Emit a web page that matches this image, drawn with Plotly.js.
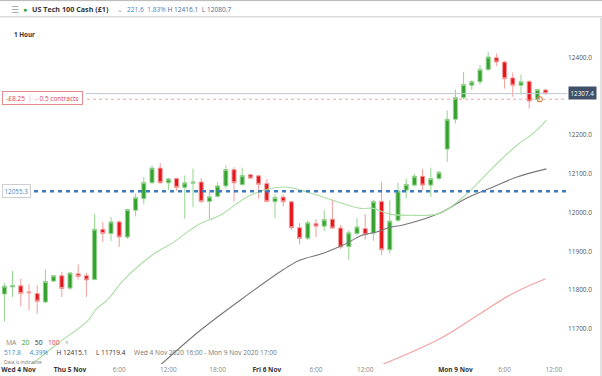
<!DOCTYPE html>
<html><head><meta charset="utf-8">
<script src="https://cdn.plot.ly/plotly-3.0.1.min.js"></script>
<style>html,body{margin:0;padding:0;background:#fff;overflow:hidden}#chart{width:602px;height:376px}</style>
</head><body><div id="chart"></div>
<script>
// Hourly candle slots (0 = Wed 4 Nov 16:00 ... 66 = last bar on Mon 9 Nov)
const slot = [0,1,2,3,4,5,6,7,8,9,10,11,12,13,14,15,16,17,18,19,20,21,22,23,24,25,26,27,28,29,30,31,32,33,34,35,36,37,38,39,40,41,42,43,44,45,46,47,48,49,50,51,52,53,54,55,56,57,58,59,60,61,62,63,64,65,66];
const openV  = [11789.6,11808,11811,11795,11791,11769,11823,11837,11805,11842,11837,11827,11957,11946,11976,11937,12006,12036,12077,12115,12077,12088,12065,12076,12079,12029,12042,12069,12111,12072,12098,12095,12075,12028,12040,12028,11961,11934,11972,11965,11983,11960,11912,11946,11959,11947,12029,11904,11980,12058,12071,12094,12071,12088,12164,12241,12297,12329,12338,12370,12400,12389,12348,12329,12339,12292,12317];
const highV  = [11818,11849,11829,11815,11812,11853,11838,11847,11845,11866,11845,11996,11976,11989,11980,12010,12049,12092,12122,12128,12090,12090,12096,12114,12089,12060,12078,12122,12118,12116,12100,12096,12087,12047,12047,12031,11973,11980,11983,12006,12034,11968,11954,11986,11996,12033,12079,12032,12077,12088,12100,12112,12116,12108,12264,12318,12363,12343,12381,12415.1,12411,12392,12362,12357,12342,12320,12320];
const lowV   = [11719.4,11782,11758,11748,11739,11766,11821,11782,11800,11827,11782,11826,11924,11927,11911,11932,11990,12021,12075,12075,12058,12056,11984,12014,12025,11984,12039,12062,12029,12072,12088,12036,12027,11986,12016,11955,11918,11929,11937,11952,11959,11906,11877,11941,11930,11927,11890,11894,11975,12036,12067,12058,12040,12084,12131,12230,12293,12317,12331,12366,12379,12320,12299,12305,12269,12286,12305];
const closeV = [11810,11812,11791,11793,11771,11822,11837,11804,11844,11835,11826,11957,11946,11976,11937,12008,12039,12078,12115,12077,12087,12065,12077,12079,12029,12041,12069,12111,12077,12096,12089,12073,12029,12039,12028,11961,11933,11974,11965,11982,11960,11911,11948,11963,11943,12029,11904,11978,12056,12073,12094,12071,12088,12104,12241,12297,12331,12338,12370,12402,12389,12346,12329,12338,12288,12318,12307.4];

// Moving averages at these slot positions
const ma20X = [2.9,6.5,10.1,11.3,12.5,14.5,18,20.6,22.6,23.9,26.3,30,34,36.9,40.6,43.4,45,47,49.5,53.1,55.9,59.6,62.5,64.5,66.1];
const ma20Y = [11600,11662,11719,11753,11773,11825,11890,11923,11954,11972,11993,12045,12066,12053,12028,12011,12011,11996,11993,11998,12039,12117,12174,12205,12239];
const ma50X = [18.7,23.9,28.7,33.9,36,38.9,41.3,43.7,45.4,47,48.6,53.1,56.4,59.6,62.5,66.1];
const ma50Y = [11600,11696,11773,11851,11877,11895,11916,11942,11950,11962,11968,11999,12038,12066,12092,12113];
const ma100X = [45.8,53.1,58,62,66];
const ma100Y = [11605,11674,11739,11791,11829];

// Reference levels
const alertLevel = 12055.3;
const positionLevel = 12293;
const lastPrice = 12307.4;

// Axis ticks
const xTickVals = [1.72,8,14,20,26,32,38,44,55,61,67];
const xTickText = ['<b style="color:#333">Wed 4 Nov</b>','<b style="color:#333">Thu 5 Nov</b>','6:00','12:00','18:00','<b style="color:#333">Fri 6 Nov</b>','6:00','12:00','<b style="color:#333">Mon 9 Nov</b>','6:00','12:00'];
const yTickVals = [11700,11800,11900,12000,12100,12200,12400];
const yTickText = ['11700.0','11800.0','11900.0','12000.0','12100.0','12200.0','12400.0'];

const W=602,H=376,ML=0,MR=35,MT=22,MB=12;
const PW=W-ML-MR, PH=H-MT-MB;
const px = x => (x-ML)/PW;
const py = y => (H-MB-y)/PH;
const FONT = '"Open Sans", "Liberation Sans", sans-serif';

const traces = [
  {type:'scatter', mode:'lines', x:ma100X, y:ma100Y, line:{color:'#f4a3a3', width:1.2, shape:'spline'}, hoverinfo:'skip', showlegend:false},
  {type:'scatter', mode:'lines', x:ma50X, y:ma50Y, line:{color:'#777777', width:1.1, shape:'spline'}, hoverinfo:'skip', showlegend:false},
  {type:'scatter', mode:'lines', x:ma20X, y:ma20Y, line:{color:'#abdda5', width:1.1, shape:'spline'}, hoverinfo:'skip', showlegend:false},
  {type:'candlestick', x:slot, open:openV, high:highV, low:lowV, close:closeV,
   increasing:{line:{color:'#94d38f', width:1}, fillcolor:'#35a22f'},
   decreasing:{line:{color:'#f29c9c', width:1}, fillcolor:'#e5171d'},
   whiskerwidth:0, hoverinfo:'skip', showlegend:false},
  {type:'scatter', mode:'markers', x:[65.3], y:[positionLevel], marker:{symbol:'circle-open', size:5, color:'#e08a55', line:{width:1.2}}, hoverinfo:'skip', showlegend:false}
];

const ann = (x,y,text,font,extra) => Object.assign({xref:'paper',yref:'paper',x:px(x),y:py(y),xanchor:'left',yanchor:'middle',text:text,showarrow:false,font:Object.assign({family:FONT,size:7,color:'#333'},font||{})}, extra||{});

const annotations = [
  ann(9,9,'☰',{size:9,color:'#9a9a9a'}),
  ann(21,9.5,'●',{size:7,color:'#2fa52a'}),
  ann(30,9,'<b>US Tech 100 Cash (£1)</b>',{size:7.2,color:'#333'}),
  ann(115,9,'⌄',{size:7,color:'#999'}),
  ann(125,9,'<span style="color:#4a86c5">221.6  1.83%</span> <span style="color:#4e6c8e">H 12416.1  L 12080.7</span>',{size:6.6}),
  ann(12,34,'<b>1 Hour</b>',{size:6.3,color:'#333'}),
  ann(3.5,342,'MA   <span style="color:#3aa335">20</span>   <span style="color:#333">50</span>   <span style="color:#e0454a">100</span>   <span style="color:#aaa">×</span>',{size:6.8,color:'#888'}),
  ann(1.5,352.5,'<span style="color:#4a86c5">517.8</span>     <span style="color:#4a86c5">4.39%</span>     H 12415.1     L 11719.4     <span style="color:#777">Wed 4 Nov 2020 16:00 - Mon 9 Nov 2020 17:00</span>',{size:6.6,color:'#333'}),
  ann(1.5,362,'Data is indicative',{size:4.8,color:'#777'}),
  ann(2,190.6,'12055.3',{size:6.3,color:'#4a86c5'},{bgcolor:'#fff',bordercolor:'#cfcfcf',borderwidth:1,borderpad:1.5}),
  ann(2,98,' -£8.25  <span style="color:#e5a0a3">│</span>  - 0.5 contracts ',{size:6.5,color:'#e0454a'},{bgcolor:'#fff',bordercolor:'#e58c90',borderwidth:1,borderpad:1.5}),
  ann(568,93,'12307.4',{size:6.3,color:'#fff'},{bgcolor:'#3f5068',borderpad:1.5})
];

const shapes = [
  {type:'line',xref:'paper',yref:'paper',x0:0,x1:W/PW,y0:py(0.6),y1:py(0.6),line:{color:'#b5b5b5',width:1}},
  {type:'line',xref:'paper',yref:'paper',x0:0,x1:W/PW,y0:py(16.8),y1:py(16.8),line:{color:'#dadada',width:1.6}},
  {type:'rect',xref:'paper',yref:'paper',x0:px(600),x1:px(602),y0:py(376),y1:py(18),fillcolor:'#e2e2e2',line:{width:0}},
  {type:'line',xref:'paper',yref:'y',x0:px(86),x1:1,y0:lastPrice,y1:lastPrice,line:{color:'#bcc6d2',width:1}},
  {type:'line',xref:'paper',yref:'y',x0:px(87),x1:1,y0:positionLevel,y1:positionLevel,line:{color:'#f0a3a5',width:1,dash:'3px,3px'}},
  {type:'line',xref:'paper',yref:'y',x0:px(34),x1:1,y0:alertLevel,y1:alertLevel,line:{color:'#3d7cc0',width:2.5,dash:'4px,4px'}}
];

const layout = {
  width:W, height:H, margin:{l:ML,r:MR,t:MT,b:MB},
  paper_bgcolor:'#fff', plot_bgcolor:'#fff',
  font:{family:FONT, size:7, color:'#555'},
  showlegend:false, dragmode:false, hovermode:false,
  xaxis:{range:[-0.537,68.61], tickmode:'array', tickvals:xTickVals, ticktext:xTickText, showgrid:false, zeroline:false, showline:false, ticks:'', tickfont:{size:6.5,color:'#8a8a8a'}, tickangle:0, rangeslider:{visible:false}, automargin:false, fixedrange:true},
  yaxis:{side:'right', range:[11608.9,12492.4], tickmode:'array', tickvals:yTickVals, ticktext:yTickText, showgrid:false, zeroline:false, showline:false, ticks:'', tickfont:{size:6.5,color:'#555'}, automargin:false, fixedrange:true},
  annotations:annotations, shapes:shapes
};

Plotly.newPlot('chart', traces, layout, {staticPlot:true, displayModeBar:false});
</script></body></html>
